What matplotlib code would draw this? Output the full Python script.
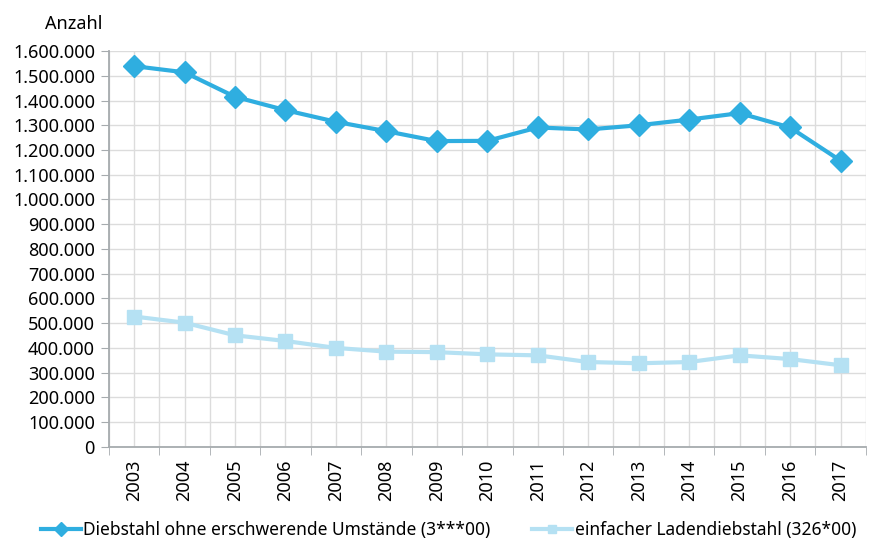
import matplotlib
matplotlib.use("Agg")
import matplotlib.pyplot as plt
from matplotlib.ticker import FixedLocator, FuncFormatter

years = ["2003", "2004", "2005", "2006", "2007", "2008", "2009", "2010",
         "2011", "2012", "2013", "2014", "2015", "2016", "2017"]
diebstahl = [1539000, 1514000, 1415000, 1361000, 1314000, 1276000, 1236000, 1237000,
             1291000, 1283000, 1300000, 1323000, 1349000, 1291000, 1157000]
laden = [527000, 502000, 451000, 428000, 400000, 385000, 383000, 374000,
         370000, 343000, 338000, 343000, 370000, 355000, 330000]
label_a = "Diebstahl ohne erschwerende Umstände (3***00)"
label_b = "einfacher Ladendiebstahl (326*00)"

plt.rcParams['font.family'] = ['Noto Sans', 'DejaVu Sans']

dark = "#2FAEE0"
light = "#B5E1F3"
gridc = "#DCDCDC"
axc = "#A6ABAE"

fig = plt.figure(figsize=(8.71, 5.43), dpi=100)
ax = fig.add_axes([0.125, 0.177, 0.869, 0.729])

x = list(range(len(years)))
ax.plot(x, diebstahl, color=dark, lw=3, marker='D', markersize=11.5,
        label=label_a, zorder=3)
ax.plot(x, laden, color=light, lw=3, marker='s', markersize=10.5,
        label=label_b, zorder=3)

ax.set_xlim(-0.5, len(years) - 0.5)
ax.set_ylim(0, 1600000)
ax.set_yticks(range(0, 1600001, 100000))
ax.yaxis.set_major_formatter(FuncFormatter(lambda v, p: f"{int(v):,}".replace(",", ".")))

ax.set_xticks(x)
ax.set_xticklabels(years, rotation=90)
ax.xaxis.set_minor_locator(FixedLocator([i - 0.5 for i in range(len(years) + 1)]))

ax.grid(True, which='major', axis='both', color=gridc, lw=1, zorder=0)
ax.grid(True, which='minor', axis='x', color=gridc, lw=1, zorder=0)
ax.set_axisbelow(True)

for s in ['top', 'right']:
    ax.spines[s].set_visible(False)
for s in ['left', 'bottom']:
    ax.spines[s].set_color(axc)
    ax.spines[s].set_linewidth(1.3)

ax.tick_params(axis='y', which='major', length=6, color=axc, labelsize=13, pad=4)
ax.tick_params(axis='x', which='major', length=0, labelsize=13, pad=9)
ax.tick_params(axis='x', which='minor', length=6, color=axc)

fig.text(0.052, 0.955, "Anzahl", fontsize=13, ha='left', va='center')

fig.legend(loc='lower left', bbox_to_anchor=(0.035, -0.012), ncol=2, frameon=False,
           fontsize=12.5, handlelength=2.3, handletextpad=0.15, columnspacing=2.4,
           borderaxespad=0.2, markerscale=0.6)

fig.savefig("out.png", dpi=100)
